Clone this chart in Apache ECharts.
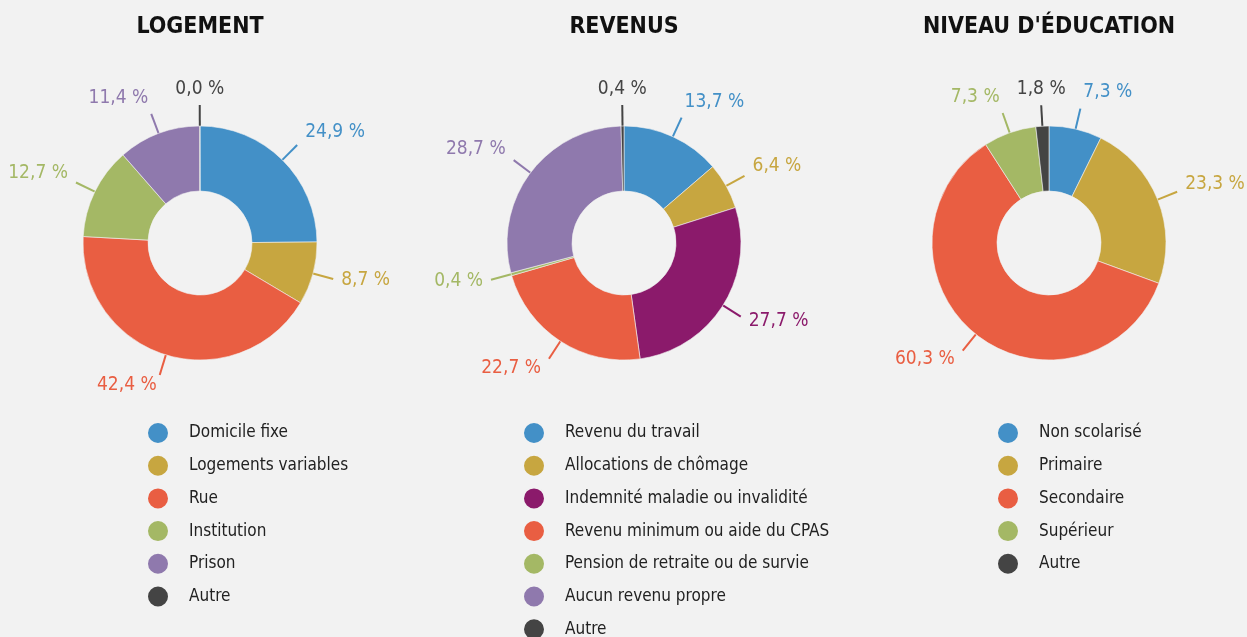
<!DOCTYPE html>
<html>
<head>
<meta charset="utf-8">
<script src="https://cdn.jsdelivr.net/npm/echarts@6/dist/echarts.min.js"></script>
<style>
  html, body { margin: 0; padding: 0; background: #f2f2f2; }
  #chart { width: 1247px; height: 637px; }
</style>
</head>
<body>
<div id="chart"></div>
<script>
// données
const logementNames = ['Domicile fixe', 'Logements variables', 'Rue', 'Institution', 'Prison', 'Autre']
const logementValues = [24.9, 8.7, 42.4, 12.7, 11.4, 0.0]
const logementColors = ['#4390c7', '#c7a640', '#e95e42', '#a4b865', '#8f79ad', '#444444']

const revenusNames = ['Revenu du travail', 'Allocations de chômage', 'Indemnité maladie ou invalidité',
  'Revenu minimum ou aide du CPAS', 'Pension de retraite ou de survie', 'Aucun revenu propre', 'Autre']
const revenusValues = [13.7, 6.4, 27.7, 22.7, 0.4, 28.7, 0.4]
const revenusColors = ['#4390c7', '#c7a640', '#8b1a6b', '#e95e42', '#a4b865', '#8f79ad', '#444444']

const educationNames = ['Non scolarisé', 'Primaire', 'Secondaire', 'Supérieur', 'Autre']
const educationValues = [7.3, 23.3, 60.3, 7.3, 1.8]
const educationColors = ['#4390c7', '#c7a640', '#e95e42', '#a4b865', '#444444']

const titles = ['LOGEMENT', 'REVENUS', "NIVEAU D'ÉDUCATION"]

const FONT = '"DejaVu Sans Condensed", "Liberation Sans Narrow", "DejaVu Sans", sans-serif'
const centersX = [200, 624, 1049]
const legendLeft = [141, 517, 991]

const fmt = v => v.toFixed(1).replace('.', ',') + ' %'

function makeData(names, values, colors) {
  return names.map((n, i) => ({
    name: n,
    value: values[i],
    itemStyle: {color: colors[i]},
    label: {color: colors[i]},
    labelLine: {lineStyle: {color: colors[i]}}
  }))
}

const groups = [
  makeData(logementNames, logementValues, logementColors),
  makeData(revenusNames, revenusValues, revenusColors),
  makeData(educationNames, educationValues, educationColors)
]
const legendNames = [logementNames, revenusNames, educationNames]

// place l'étiquette au bout du trait (le trait garde sa forme)
function placeLabel(p) {
  const pts = p.labelLinePoints
  if (!pts) return {}
  const s = pts[0], e = pts[pts.length - 1]
  const dx = e[0] - s[0], dy = e[1] - s[1]
  const len = Math.hypot(dx, dy) || 1
  const ux = dx / len, uy = dy / len
  if (uy < 0 && Math.abs(ux) < 0.1) {
    return {x: e[0], y: e[1] - 16, align: 'center', verticalAlign: 'middle', labelLinePoints: pts}
  }
  const gap = Math.abs(ux) > 0.5 ? 8 : 3
  return {
    x: e[0] + (ux > 0 ? gap : -gap),
    y: e[1] + uy * 14 - 3,
    align: ux > 0 ? 'left' : 'right',
    verticalAlign: 'middle',
    labelLinePoints: pts
  }
}

const chart = echarts.init(document.getElementById('chart'))
chart.setOption({
  backgroundColor: '#f2f2f2',
  animation: false,
  title: titles.map((t, i) => ({
    text: t,
    left: centersX[i] - 5,
    top: 11,
    textAlign: 'center',
    textStyle: {fontFamily: FONT, fontSize: 23, fontWeight: 'bold', color: '#111'}
  })),
  legend: legendNames.map((names, i) => ({
    data: names,
    orient: 'vertical',
    left: legendLeft[i],
    top: 416,
    height: 260,
    icon: 'circle',
    itemWidth: 22,
    itemHeight: 22,
    itemGap: 8.7,
    selectedMode: false,
    textStyle: {fontFamily: FONT, fontSize: 17, lineHeight: 22, color: '#222', padding: [0, 0, 0, 15]}
  })),
  series: groups.map((data, i) => ({
    type: 'pie',
    center: [centersX[i], 243],
    radius: [52, 117],
    startAngle: 90,
    clockwise: true,
    minAngle: 0.2,
    avoidLabelOverlap: false,
    data: data,
    itemStyle: {borderColor: '#f2f2f2', borderWidth: 0.6},
    label: {
      show: true,
      position: 'outside',
      fontFamily: FONT,
      fontSize: 19,
      formatter: p => fmt(p.value)
    },
    labelLine: {show: true, length: 21, length2: 0, lineStyle: {width: 2}},
    labelLayout: placeLabel,
    emphasis: {disabled: true}
  }))
})
</script>
</body>
</html>
